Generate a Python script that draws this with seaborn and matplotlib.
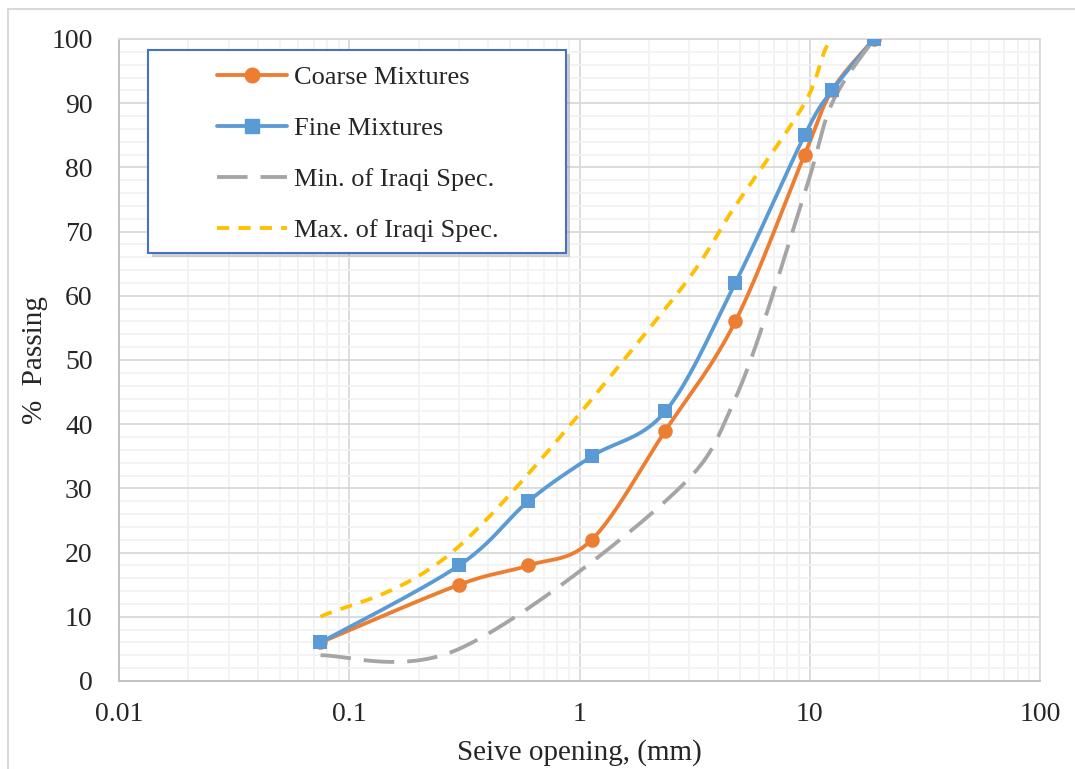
import numpy as np
import pandas as pd
import matplotlib
matplotlib.use('Agg')
import matplotlib.pyplot as plt
import seaborn as sns
from matplotlib.lines import Line2D
from matplotlib.patches import Rectangle
from matplotlib.ticker import FixedLocator, FuncFormatter, MultipleLocator, LogLocator

# sieve sizes (mm) and % passing
sieve = [0.075, 0.3, 0.6, 1.13, 2.36, 4.75, 9.5, 12.5, 19]
coarse = [6, 15, 18, 22, 39, 56, 82, 92, 100]
fine = [6, 18, 28, 35, 42, 62, 85, 92, 100]

spec_sieve = [0.075, 0.3, 2.36, 4.75, 9.5, 12.5, 19]
spec_min = [4, 5, 28, 44, 76, 90, 100]
spec_max = [10, 21, 58, 74, 90, 100, 100]

x_ticks = [0.01, 0.1, 1, 10, 100]
y_ticks = list(range(0, 101, 10))

labels = ['Coarse Mixtures', 'Fine Mixtures', 'Min. of Iraqi Spec.', 'Max. of Iraqi Spec.']
colors = ['#ED7D31', '#5B9BD5', '#A5A5A5', '#FFC000']

# pixel scale of the plot area, smoothing is done in screen space like Excel
PX_DEC = 230.25
PX_PCT = 6.42


def smooth(xs, ys, n=40):
    u = np.log10(np.array(xs, dtype=float)) * PX_DEC
    v = np.array(ys, dtype=float) * PX_PCT
    P = np.column_stack([u, v])
    Pe = np.vstack([P[0], P, P[-1]])
    t = np.linspace(0, 1, n)[:, None]
    out = []
    for i in range(len(P) - 1):
        p0, p3 = P[i], P[i + 1]
        c1 = p0 + (Pe[i + 2] - Pe[i]) / 6
        c2 = p3 - (Pe[i + 3] - Pe[i + 1]) / 6
        seg = (1 - t) ** 3 * p0 + 3 * (1 - t) ** 2 * t * c1 + 3 * (1 - t) * t ** 2 * c2 + t ** 3 * p3
        out.append(seg)
    pts = np.vstack(out)
    return 10 ** (pts[:, 0] / PX_DEC), pts[:, 1] / PX_PCT


sns.set_style('white')
plt.rcParams['font.family'] = ['Liberation Serif', 'DejaVu Serif']

fig = plt.figure(figsize=(10.75, 7.69), dpi=100)
ax = fig.add_axes([119 / 1075, 88 / 769, 921 / 1075, 642 / 769])

# outer chart frame
fig.patches.append(Rectangle((8 / 1075, -0.1), 1.2, (769 - 9) / 769 + 0.1,
                             transform=fig.transFigure, fill=False,
                             edgecolor='#D9D9D9', lw=1.5, clip_on=False))

lw = 2.75
curves = [
    (sieve, coarse, colors[0], None),
    (sieve, fine, colors[1], None),
    (spec_sieve, spec_min, colors[2], (8, 3.4)),
    (spec_sieve, spec_max, colors[3], (3.2, 2.4)),
]
for xs, ys, c, dash in curves:
    cx, cy = smooth(xs, ys)
    df = pd.DataFrame({'x': cx, 'y': cy})
    if dash is None:
        sns.lineplot(data=df, x='x', y='y', sort=False, color=c, lw=lw, ax=ax,
                     solid_capstyle='round')
    else:
        sns.lineplot(data=df, x='x', y='y', sort=False, color=c, lw=lw, ax=ax,
                     dashes=dash, dash_capstyle='butt')

sns.scatterplot(x=sieve, y=coarse, marker='o', s=110, color=colors[0],
                edgecolor=colors[0], linewidth=0, ax=ax, zorder=5)
sns.scatterplot(x=sieve, y=fine, marker='s', s=115, color=colors[1],
                edgecolor=colors[1], linewidth=0, ax=ax, zorder=6)

ax.set_xscale('log')
ax.set_xlim(0.01, 100)
ax.set_ylim(0, 100)
ax.xaxis.set_major_locator(FixedLocator(x_ticks))
ax.xaxis.set_major_formatter(FuncFormatter(lambda v, p: '%g' % v))
ax.xaxis.set_minor_locator(LogLocator(base=10, subs=np.arange(2, 10)))
ax.yaxis.set_major_locator(FixedLocator(y_ticks))
ax.yaxis.set_minor_locator(MultipleLocator(2))

ax.grid(which='major', color='#D9D9D9', lw=1.3)
ax.grid(which='minor', color='#F2F2F2', lw=1.3)
ax.set_axisbelow(True)
ax.tick_params(which='both', length=0)
ax.tick_params(axis='y', labelsize=20, pad=19)
ax.tick_params(axis='x', labelsize=20, pad=15)
for s in ax.spines.values():
    s.set_color('#D9D9D9')
    s.set_linewidth(1.3)
ax.spines['left'].set_color('#BFBFBF')
ax.spines['bottom'].set_color('#BFBFBF')

ax.set_xlabel('Seive opening, (mm)', fontsize=21)
ax.set_ylabel('%  Passing', fontsize=21)
ax.xaxis.set_label_coords(0.5, -0.09)
ax.yaxis.set_label_coords(-0.077, 0.5)

# legend box with shadow
lx0, ly0 = (148 - 119) / 921, (681 - 253) / 642
lw_box, lh_box = (566 - 148) / 921, (253 - 50) / 642
ax.add_patch(Rectangle((lx0 + 4 / 921, ly0 - 4 / 642), lw_box, lh_box, transform=ax.transAxes,
                       facecolor='#7F7F7F', alpha=0.35, edgecolor='none', zorder=9))
ax.add_patch(Rectangle((lx0, ly0), lw_box, lh_box, transform=ax.transAxes,
                       facecolor='white', edgecolor='#4472C4', lw=1.5, zorder=10))

handles = [
    Line2D([], [], color=colors[0], lw=lw, marker='o', markersize=10.5),
    Line2D([], [], color=colors[1], lw=lw, marker='s', markersize=10.7),
    Line2D([], [], color=colors[2], lw=lw, dashes=(8, 3.4), dash_capstyle='butt'),
    Line2D([], [], color=colors[3], lw=lw, dashes=(3.2, 2.4), dash_capstyle='butt'),
]
leg = ax.legend(handles, labels, loc='upper left',
                bbox_to_anchor=((217 - 119) / 921, (681 - 66) / 642),
                frameon=False, fontsize=19, handlelength=2.65, handletextpad=0.25,
                labelspacing=1.04, borderaxespad=0, borderpad=0)
leg.set_zorder(11)

fig.savefig('out.png', dpi=100)
